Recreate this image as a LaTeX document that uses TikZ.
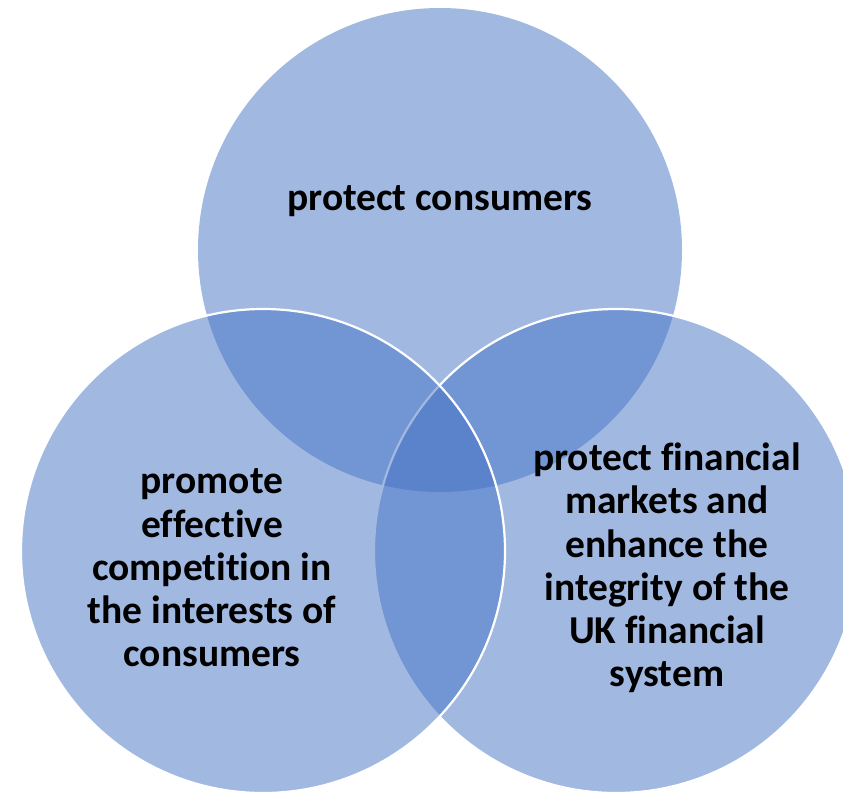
\documentclass[tikz,border=0pt]{standalone}
\usepackage{fontspec}
\setmainfont[Ligatures=NoCommon]{Carlito}
\definecolor{accentblue}{RGB}{68,114,196}
\begin{document}
\begin{tikzpicture}[x=1pt,y=-1pt,
  vennfill/.style={fill=accentblue, fill opacity=0.5},
  vennline/.style={draw=white, line width=2.2pt},
  venntext/.style={text=black, align=center, font=\fontsize{39.5}{43.2}\selectfont\bfseries, inner sep=0pt}]
\useasboundingbox (0,0) rectangle (843,793);
\coordinate (ctop) at (440,250);
\coordinate (cright) at (616,551);
\coordinate (cleft) at (263,551);
\fill[vennfill] (ctop) circle[radius=242];
\filldraw[vennfill, vennline] (cright) circle[radius=242];
\filldraw[vennfill, vennline] (cleft) circle[radius=242];
\node[venntext] (ttop) at (440,201) {protect consumers};
\node[venntext] (tleft) at (212,568) {promote\\effective\\competition in\\the interests of\\consumers};
\node[venntext] (tright) at (667,568) {protect financial\\markets and\\enhance the\\integrity of the\\UK financial\\system};
\end{tikzpicture}
\end{document}
